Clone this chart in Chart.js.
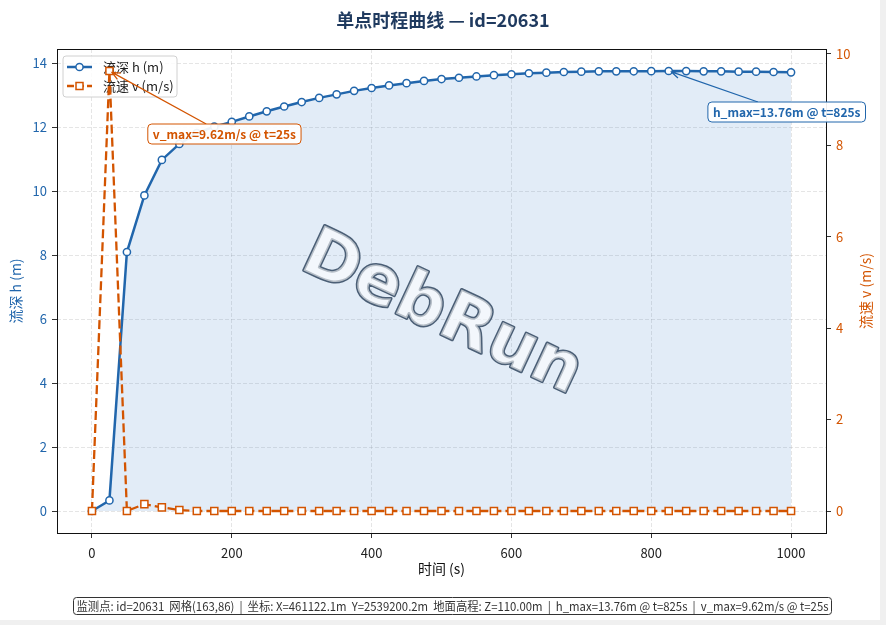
<!DOCTYPE html>
<html>
<head>
<meta charset="utf-8">
<script src="https://cdn.jsdelivr.net/npm/chart.js@4.4.1/dist/chart.umd.min.js"></script>
<style>
  html, body { margin: 0; padding: 0; background: #f0f0f0; }
  #wrap { width: 880px; height: 620px; background: #fff; }
</style>
</head>
<body>
<div id="wrap"><canvas id="chart" width="880" height="620"></canvas></div>
<script>
/* 单点时程曲线 — point time history */

const pointId = 20631;
const times = [0, 25, 50, 75, 100, 125, 150, 175, 200, 225, 250, 275, 300, 325, 350, 375, 400,
  425, 450, 475, 500, 525, 550, 575, 600, 625, 650, 675, 700, 725, 750, 775, 800, 825, 850,
  875, 900, 925, 950, 975, 1000];
const depth = [0.00, 0.33, 8.10, 9.87, 10.98, 11.48, 11.82, 12.02, 12.17, 12.34, 12.50, 12.65,
  12.79, 12.92, 13.03, 13.14, 13.23, 13.31, 13.38, 13.45, 13.51, 13.55, 13.59, 13.63, 13.66,
  13.69, 13.71, 13.73, 13.74, 13.75, 13.75, 13.752, 13.757, 13.761, 13.758, 13.75, 13.75,
  13.74, 13.74, 13.73, 13.72];
const velocity = [0, 9.62, 0, 0.15, 0.08, 0.02, 0, 0, 0, 0, 0, 0, 0, 0, 0, 0, 0, 0, 0, 0, 0,
  0, 0, 0, 0, 0, 0, 0, 0, 0, 0, 0, 0, 0, 0, 0, 0, 0, 0, 0, 0];
const xTicks = [0, 200, 400, 600, 800, 1000];
const hTicks = [0, 2, 4, 6, 8, 10, 12, 14];
const vTicks = [0, 2, 4, 6, 8, 10];

const BLUE = '#2166ac';
const ORANGE = '#d35400';
const FONT = '"Noto Sans CJK SC", "Noto Sans", sans-serif';

// matplotlib-style 5% margins
const pad = (lo, hi) => { const m = (hi - lo) * 0.05; return [lo - m, hi + m]; };
const [xMin, xMax] = pad(Math.min(...times), Math.max(...times));
const [hMin, hMax] = pad(Math.min(...depth), Math.max(...depth));
const [vMin, vMax] = pad(Math.min(...velocity), Math.max(...velocity));

const hPeakIdx = depth.indexOf(Math.max(...depth));
const vPeakIdx = velocity.indexOf(Math.max(...velocity));
const hPeakTxt = `h_max=${depth[hPeakIdx].toFixed(2)}m @ t=${times[hPeakIdx]}s`;
const vPeakTxt = `v_max=${velocity[vPeakIdx].toFixed(2)}m/s @ t=${times[vPeakIdx]}s`;
const footerTxt = `监测点: id=${pointId}  网格(163,86)  |  坐标: X=461122.1m  Y=2539200.2m  地面高程: Z=110.00m  |  ${hPeakTxt}  |  ${vPeakTxt}`;

const fixTicks = list => scale => { scale.ticks = list.map(v => ({ value: v })); };

// ─── helpers ─────────────────────────────────────────────
function roundBox(ctx, x, y, w, h, r) {
  ctx.beginPath();
  ctx.roundRect(x, y, w, h, r);
}

function drawNote(ctx, tx, ty, dx, dy, text, color) {
  ctx.save();
  ctx.font = `bold 12px ${FONT}`;
  const w = ctx.measureText(text).width + 10, h = 20;
  const cx = tx + dx, cy = ty + dy;
  const vx = tx - cx, vy = ty - cy;
  const s = Math.min((w / 2) / Math.abs(vx), (h / 2) / Math.abs(vy));
  const sx = cx + vx * s, sy = cy + vy * s;
  const len = Math.hypot(tx - sx, ty - sy);
  const ux = (tx - sx) / len, uy = (ty - sy) / len;
  const ex = tx - ux * 3, ey = ty - uy * 3;
  ctx.strokeStyle = color;
  ctx.lineWidth = 1.3;
  ctx.beginPath();
  ctx.moveTo(sx, sy);
  ctx.lineTo(ex, ey);
  ctx.moveTo(ex - ux * 8 - uy * 3.5, ey - uy * 8 + ux * 3.5);
  ctx.lineTo(ex, ey);
  ctx.lineTo(ex - ux * 8 + uy * 3.5, ey - uy * 8 - ux * 3.5);
  ctx.stroke();
  roundBox(ctx, cx - w / 2, cy - h / 2, w, h, 4);
  ctx.fillStyle = 'rgba(255,255,255,0.92)';
  ctx.fill();
  ctx.lineWidth = 1;
  ctx.stroke();
  ctx.fillStyle = color;
  ctx.textAlign = 'center';
  ctx.textBaseline = 'middle';
  ctx.fillText(text, cx, cy + 0.5);
  ctx.restore();
}

function drawLegend(ctx, area) {
  const x = area.left + 6, y = area.top + 7;
  ctx.save();
  roundBox(ctx, x, y, 114, 41, 3);
  ctx.fillStyle = 'rgba(255,255,255,0.85)';
  ctx.fill();
  ctx.strokeStyle = '#d0d0d0';
  ctx.lineWidth = 1;
  ctx.stroke();

  const rows = [
    { label: '流深 h (m)', color: BLUE, dash: [], marker: 'circle' },
    { label: '流速 v (m/s)', color: ORANGE, dash: [7, 3], marker: 'rect' },
  ];
  rows.forEach((r, i) => {
    const ly = y + 11 + i * 19;
    ctx.strokeStyle = r.color;
    ctx.lineWidth = 2.5;
    ctx.setLineDash(r.dash);
    ctx.beginPath();
    ctx.moveTo(x + 4, ly);
    ctx.lineTo(x + 29, ly);
    ctx.stroke();
    ctx.setLineDash([]);
    ctx.fillStyle = '#fff';
    ctx.lineWidth = 1.5;
    ctx.beginPath();
    if (r.marker === 'circle') ctx.arc(x + 16.5, ly, 3.6, 0, Math.PI * 2);
    else ctx.rect(x + 13, ly - 3.5, 7, 7);
    ctx.fill();
    ctx.stroke();
    ctx.fillStyle = '#222';
    ctx.font = `13px ${FONT}`;
    ctx.textBaseline = 'middle';
    ctx.fillText(r.label, x + 40, ly);
  });
  ctx.restore();
}

function drawWatermark(ctx, area) {
  const cx = (area.left + area.right) / 2;
  const cy = area.bottom - 0.45 * (area.bottom - area.top);
  ctx.save();
  ctx.translate(cx, cy);
  ctx.rotate(25 * Math.PI / 180);
  ctx.font = 'bold 68px "DejaVu Sans", sans-serif';
  ctx.textAlign = 'center';
  ctx.textBaseline = 'middle';
  ctx.lineJoin = 'round';
  ctx.lineWidth = 3;
  ctx.strokeStyle = '#4b5f76';
  ctx.strokeText('DebRun', 0, 0);
  ctx.fillStyle = 'rgba(255,255,255,0.6)';
  ctx.fillText('DebRun', 0, 0);
  ctx.restore();
}

// ─── extras plugin ───────────────────────────────────────
const extrasPlugin = {
  id: 'extras',
  afterDatasetDraw(chart, args) {
    if (args.index !== 0) return;
    drawWatermark(chart.ctx, chart.chartArea);
    drawLegend(chart.ctx, chart.chartArea);
  },
  afterDatasetsDraw(chart) {
    const { ctx, chartArea: a, scales } = chart;
    ctx.save();
    ctx.strokeStyle = '#111';
    ctx.lineWidth = 1;
    ctx.strokeRect(Math.round(a.left) + 0.5, Math.round(a.top) + 0.5,
      Math.round(a.right - a.left), Math.round(a.bottom - a.top));
    ctx.restore();

    drawNote(ctx, scales.x.getPixelForValue(times[vPeakIdx]), scales.y1.getPixelForValue(velocity[vPeakIdx]),
      115, 63, vPeakTxt, ORANGE);
    drawNote(ctx, scales.x.getPixelForValue(times[hPeakIdx]), scales.y.getPixelForValue(depth[hPeakIdx]),
      118, 41, hPeakTxt, BLUE);
  },
  afterDraw(chart) {
    const { ctx, chartArea: a } = chart;
    ctx.save();
    // title
    ctx.fillStyle = '#1f3a5f';
    ctx.font = `bold 18px ${FONT}`;
    ctx.textAlign = 'center';
    ctx.textBaseline = 'middle';
    ctx.fillText(`单点时程曲线 — id=${pointId}`, 443, 20);

    // axis titles
    ctx.font = `14px ${FONT}`;
    ctx.fillStyle = '#111';
    ctx.fillText('时间 (s)', (a.left + a.right) / 2, 569);
    const midY = (a.top + a.bottom) / 2;
    [[16, '流深 h (m)', BLUE], [866, '流速 v (m/s)', ORANGE]].forEach(([x, t, c]) => {
      ctx.save();
      ctx.translate(x, midY);
      ctx.rotate(-Math.PI / 2);
      ctx.fillStyle = c;
      ctx.fillText(t, 0, 0);
      ctx.restore();
    });

    // footer info box
    const bx = 73, bw = 758, by = 597, bh = 17;
    roundBox(ctx, bx + 0.5, by + 0.5, bw, bh, 3);
    ctx.fillStyle = '#fff';
    ctx.fill();
    ctx.strokeStyle = '#333';
    ctx.lineWidth = 1;
    ctx.stroke();
    ctx.font = `12px ${FONT}`;
    ctx.fillStyle = '#333';
    const tw = ctx.measureText(footerTxt).width;
    const k = (bw - 6) / tw;
    ctx.translate(bx + bw / 2 + 0.5, by + bh / 2 + 1);
    ctx.scale(k, 1);
    ctx.fillText(footerTxt, 0, 0);
    ctx.restore();
  },
};

// ─── chart ───────────────────────────────────────────────
const gridDash = [4, 2];
const gridColor = 'rgba(160,160,160,0.28)';
const tickFont = { family: FONT, size: 13 };
const plain = v => String(v);

new Chart(document.getElementById('chart'), {
  type: 'line',
  data: {
    datasets: [
      {
        label: '流深 h (m)',
        data: times.map((t, i) => ({ x: t, y: depth[i] })),
        yAxisID: 'y',
        order: 1,
        borderColor: BLUE,
        borderWidth: 2.5,
        backgroundColor: 'rgba(33,110,190,0.13)',
        fill: 'origin',
        tension: 0,
        pointStyle: 'circle',
        pointRadius: 3.6,
        pointBorderWidth: 1.5,
        pointBorderColor: BLUE,
        pointBackgroundColor: '#fff',
      },
      {
        label: '流速 v (m/s)',
        data: times.map((t, i) => ({ x: t, y: velocity[i] })),
        yAxisID: 'y1',
        order: 0,
        borderColor: ORANGE,
        borderWidth: 2.3,
        borderDash: [9, 4],
        fill: false,
        tension: 0,
        pointStyle: 'rect',
        pointRadius: 5,
        pointBorderWidth: 1.5,
        pointBorderColor: ORANGE,
        pointBackgroundColor: '#fff',
      },
    ],
  },
  options: {
    responsive: false,
    animation: false,
    layout: { padding: { top: 49, left: 0, right: 0, bottom: 0 } },
    plugins: { legend: { display: false }, tooltip: { enabled: false } },
    scales: {
      x: {
        type: 'linear',
        min: xMin, max: xMax,
        afterBuildTicks: fixTicks(xTicks),
        afterFit: s => { s.height = 87; },
        grid: { color: gridColor, tickColor: '#333', tickLength: 5 },
        border: { display: false, dash: gridDash },
        ticks: { color: '#222', font: tickFont, padding: 7, maxRotation: 0, callback: plain },
      },
      y: {
        type: 'linear',
        position: 'left',
        min: hMin, max: hMax,
        afterBuildTicks: fixTicks(hTicks),
        afterFit: s => { s.width = 57; },
        grid: { color: gridColor, tickColor: '#333', tickLength: 5 },
        border: { display: false, dash: gridDash },
        ticks: { color: BLUE, font: tickFont, padding: 5, callback: plain },
      },
      y1: {
        type: 'linear',
        position: 'right',
        min: vMin, max: vMax,
        afterBuildTicks: fixTicks(vTicks),
        afterFit: s => { s.width = 54; },
        grid: { drawOnChartArea: false, color: '#333', tickColor: '#333', tickLength: 5 },
        border: { display: false },
        ticks: { color: ORANGE, font: tickFont, padding: 5, callback: plain },
      },
    },
  },
  plugins: [extrasPlugin],
});
</script>
</body>
</html>
